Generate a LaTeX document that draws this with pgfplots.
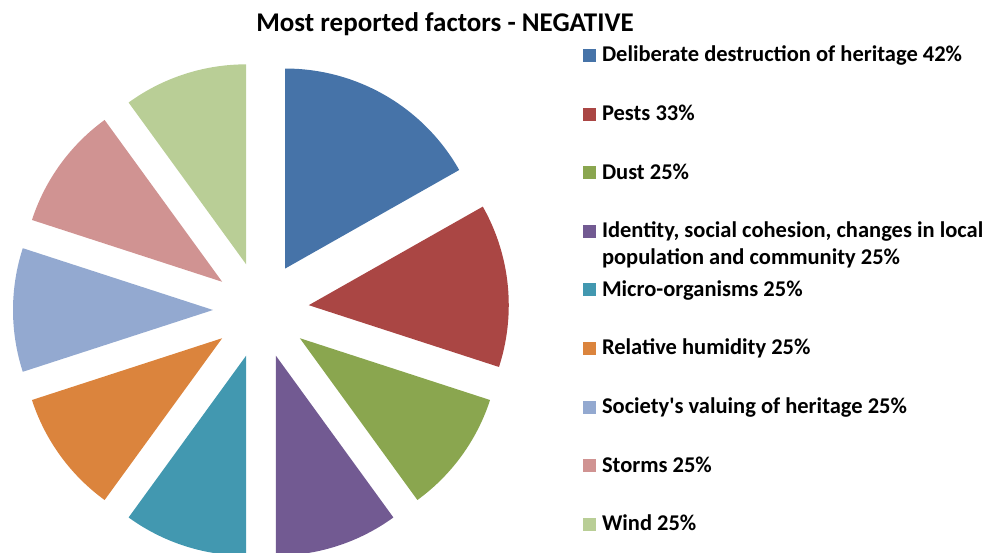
\documentclass[border=0pt]{standalone}
\usepackage{pgfplots}
\pgfplotsset{compat=1.18}
\usepackage{fontspec}
\setmainfont{Carlito}

% slice colours
\definecolor{cBlue}{HTML}{4673A8}
\definecolor{cRed}{HTML}{AA4644}
\definecolor{cGreen}{HTML}{8AA64F}
\definecolor{cPurple}{HTML}{725A92}
\definecolor{cTeal}{HTML}{4298B0}
\definecolor{cOrange}{HTML}{DB843D}
\definecolor{cLBlue}{HTML}{93A9D0}
\definecolor{cPink}{HTML}{D09392}
\definecolor{cLGreen}{HTML}{B9CE96}

% pie geometry (axis units = pt): centre, radius, explode distance
\def\pieCx{261}
\def\pieCy{243}
\def\pieR{200}
\def\pieOff{48}
\def\pieTotal{250}% sum of all values below
\def\slStart{90}

% one exploded sector, clockwise from the current start angle
\newcommand\slice[3]{%
  \pgfmathsetmacro\slEnd{\slStart-#1*360/\pieTotal}%
  \pgfmathsetmacro\slMid{(\slStart+\slEnd)/2}%
  \pgfmathsetmacro\slTx{\pieCx+\pieOff*cos(\slMid)}%
  \pgfmathsetmacro\slTy{\pieCy+\pieOff*sin(\slMid)}%
  \edef\slDo{\noexpand\addplot[fill=#2, draw=none, domain=\slEnd:\slStart,
      samples=90, variable=\noexpand\t]
    ({\slTx+\pieR*cos(\noexpand\t)}, {\slTy+\pieR*sin(\noexpand\t)})
    -- (axis cs:\slTx,\slTy) -- cycle;}%
  \slDo
  \addlegendentry{#3}%
  \xdef\slStart{\slEnd}%
}

\begin{document}
\begin{tikzpicture}
\begin{axis}[
  scale only axis, width=984pt, height=553pt,
  xmin=0, xmax=984, ymin=0, ymax=553,
  hide axis,
  legend image code/.code={\fill[#1] (0pt,0pt) rectangle (13pt,13pt);},
  legend style={at={(axis cs:583,507)}, anchor=north west,
    draw=none, fill=none, inner sep=0pt, outer sep=0pt,
    row sep=0pt, column sep=6pt,
    cells={anchor=base west},
    nodes={inner sep=0pt, text height=16pt, text depth=42.6pt,
      font=\fontsize{22.5}{27}\selectfont\bfseries}},
]
\slice{42}{cBlue}{Deliberate destruction of heritage 42\%}
\slice{33}{cRed}{Pests 33\%}
\slice{25}{cGreen}{Dust 25\%}
\slice{25}{cPurple}{\begin{tabular}[t]{@{}l@{}}Identity, social cohesion, changes in local\\population and community 25\%\end{tabular}}
\slice{25}{cTeal}{Micro-organisms 25\%}
\slice{25}{cOrange}{Relative humidity 25\%}
\slice{25}{cLBlue}{Society\textquotesingle s valuing of heritage 25\%}
\slice{25}{cPink}{Storms 25\%}
\slice{25}{cLGreen}{Wind 25\%}
\node[anchor=base, font=\fontsize{27}{32}\selectfont\bfseries]
  at (axis cs:445,521) {Most reported factors - NEGATIVE};
\end{axis}
\pgfresetboundingbox
\path (current axis.south west) rectangle (current axis.north east);
\end{tikzpicture}
\end{document}
